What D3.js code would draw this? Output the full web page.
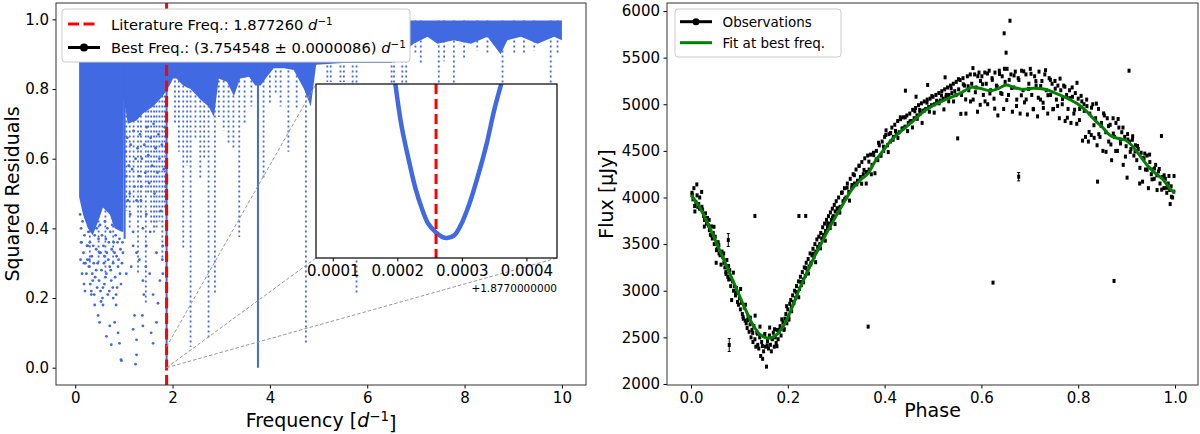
<!DOCTYPE html>
<html>
<head>
<meta charset="utf-8">
<script src="https://cdn.jsdelivr.net/npm/d3@7"></script>
<style>
body { margin: 0; background: #fff; }
text { font-family: "DejaVu Sans", sans-serif; fill: #000; }
</style>
</head>
<body>
<div id="chart"></div>
<script>
// ---- periodogram (left) ----
var litFreq = 1.87726;
var bestFreq = 3.754548;
var bandTop = 0.997;
// lower edge of the dense cloud of residuals
var envF  = [0.08, 0.16, 0.26, 0.36, 0.47, 0.57, 0.71, 0.81, 0.95, 0.99, 1.00, 1.08, 1.26, 1.39, 1.60, 1.80, 1.94, 2.01, 2.08, 2.22, 2.37, 2.57, 2.74, 2.85, 2.95, 3.12, 3.26, 3.39, 3.57, 3.70, 3.81, 3.94, 4.08, 4.29, 4.49, 4.70, 4.84, 4.95, 5.50, 6.00, 6.50, 6.95, 7.24, 7.44, 7.78, 8.13, 8.47, 8.74, 8.88, 9.16, 9.50, 9.84, 10.0];
var envLo = [0.49, 0.44, 0.40, 0.38, 0.42, 0.46, 0.44, 0.40, 0.39, 0.39, 0.77, 0.70, 0.71, 0.73, 0.75, 0.78, 0.81, 0.83, 0.83, 0.81, 0.80, 0.77, 0.75, 0.72, 0.83, 0.82, 0.78, 0.83, 0.835, 0.81, 0.81, 0.835, 0.86, 0.86, 0.855, 0.80, 0.75, 0.87, 0.875, 0.875, 0.875, 0.93, 0.95, 0.93, 0.94, 0.93, 0.95, 0.90, 0.94, 0.95, 0.93, 0.95, 0.94];
// columns of points hanging below the cloud: frequency, lowest value
var spikeF   = [0.30, 0.48, 0.62, 0.78, 1.05, 1.12, 1.20, 1.29, 1.35, 1.45, 1.50, 1.56, 1.62, 1.67, 1.73, 1.79, 1.84, 2.05, 2.13, 2.22, 2.30, 2.37, 2.47, 2.57, 2.65, 2.74, 2.87, 2.95, 3.05, 3.15, 3.25, 3.37, 3.48, 3.62, 3.87, 4.00, 4.12, 4.22, 4.38, 4.55, 4.74, 5.18, 5.25, 5.45, 5.52, 5.70, 5.78, 6.50, 6.55, 6.72, 6.80, 6.99, 7.10, 7.47, 7.58, 7.78, 7.99, 8.26, 8.47, 8.78, 9.02, 9.22, 9.43, 9.77, 9.91];
var spikeMin = [0.28, 0.30, 0.27, 0.30, 0.45, 0.40, 0.47, 0.27, 0.43, 0.18, 0.50, 0.41, 0.38, 0.40, 0.42, 0.31, 0.46, 0.70, 0.62, 0.34, 0.58, 0.06, 0.66, 0.54, 0.60, 0.085, 0.21, 0.72, 0.68, 0.64, 0.625, 0.375, 0.70, 0.75, 0.54, 0.76, 0.79, 0.75, 0.62, 0.74, 0.065, 0.82, 0.82, 0.82, 0.82, 0.815, 0.21, 0.815, 0.815, 0.815, 0.815, 0.90, 0.87, 0.80, 0.88, 0.80, 0.89, 0.91, 0.90, 0.80, 0.90, 0.90, 0.91, 0.80, 0.90];
// dense, unbroken columns
var solidF   = [1.015, litFreq + 0.000013, bestFreq];
var solidMin = [0.37, 0.003, 0.0];
// isolated points below the cloud
var scatterF = [0.26, 0.29, 0.23, 0.36, 0.33, 0.40, 0.47, 0.50, 0.53, 0.57, 0.64, 0.71, 0.74, 0.67, 0.78, 0.84, 0.81, 0.88, 0.91, 0.95, 0.71, 0.64, 0.74, 0.57, 0.43, 0.50, 0.60, 0.81, 0.88, 0.91, 0.98, 1.05, 1.15, 1.19, 1.26, 1.22, 1.19, 1.26, 1.26, 1.24, 1.39, 1.38, 1.41, 1.39, 1.45, 1.32, 1.53, 1.60, 1.56, 1.60, 1.67, 1.70, 1.74, 1.67, 1.80, 1.79, 1.80, 1.54, 1.46, 1.19, 1.39, 1.13, 1.08, 1.26, 1.36, 1.46, 0.94, 0.12, 0.18, 0.31, 0.52,
    0.10, 0.12, 0.13, 0.15, 0.17, 0.19, 0.21, 0.22, 0.24, 0.27, 0.28, 0.30, 0.32, 0.34, 0.35, 0.37, 0.38, 0.40, 0.41, 0.43, 0.44, 0.46, 0.48, 0.49, 0.51, 0.52, 0.54, 0.55, 0.58, 0.59, 0.61, 0.62, 0.63, 0.65, 0.66, 0.68, 0.69, 0.72, 0.73, 0.75, 0.76, 0.78, 0.79, 0.82, 0.83, 0.85, 0.86, 0.87, 0.89, 0.90, 0.92, 0.93, 0.96, 0.97, 0.11, 0.14, 0.18, 0.20, 0.25, 0.33, 0.39, 0.45, 0.56, 0.60, 0.70, 0.77, 0.84, 0.94,
    1.03, 1.05, 1.07, 1.10, 1.12, 1.14, 1.17, 1.20, 1.22, 1.24, 1.28, 1.31, 1.33, 1.35, 1.37, 1.42, 1.44, 1.47, 1.50, 1.52, 1.55, 1.58, 1.61, 1.63, 1.65, 1.69, 1.71, 1.73, 1.76, 1.78, 1.82, 1.84, 1.86];
var scatterR = [0.35, 0.31, 0.27, 0.25, 0.21, 0.18, 0.15, 0.13, 0.19, 0.23, 0.27, 0.29, 0.25, 0.21, 0.20, 0.18, 0.13, 0.10, 0.07, 0.02, 0.12, 0.09, 0.066, 0.18, 0.28, 0.33, 0.32, 0.33, 0.29, 0.37, 0.33, 0.27, 0.29, 0.35, 0.33, 0.15, 0.11, 0.08, 0.037, 0.01, 0.12, 0.15, 0.21, 0.25, 0.29, 0.31, 0.27, 0.21, 0.10, 0.07, 0.13, 0.185, 0.25, 0.33, 0.35, 0.31, 0.27, 0.39, 0.35, 0.39, 0.40, 0.44, 0.48, 0.48, 0.52, 0.44, 0.023, 0.36, 0.30, 0.24, 0.22,
    0.44, 0.40, 0.36, 0.42, 0.33, 0.38, 0.30, 0.43, 0.35, 0.39, 0.29, 0.36, 0.41, 0.32, 0.27, 0.35, 0.30, 0.38, 0.26, 0.34, 0.40, 0.30, 0.37, 0.25, 0.41, 0.33, 0.28, 0.38, 0.35, 0.30, 0.42, 0.26, 0.37, 0.33, 0.40, 0.31, 0.36, 0.39, 0.28, 0.34, 0.41, 0.30, 0.36, 0.26, 0.38, 0.32, 0.23, 0.36, 0.31, 0.40, 0.27, 0.34, 0.30, 0.36, 0.31, 0.27, 0.24, 0.22, 0.31, 0.22, 0.21, 0.23, 0.20, 0.24, 0.22, 0.23, 0.21, 0.24,
    0.62, 0.55, 0.66, 0.58, 0.50, 0.64, 0.57, 0.68, 0.52, 0.60, 0.63, 0.55, 0.67, 0.48, 0.60, 0.64, 0.56, 0.69, 0.61, 0.53, 0.66, 0.58, 0.70, 0.50, 0.63, 0.56, 0.67, 0.60, 0.45, 0.64, 0.57, 0.69, 0.52];
// zoomed curve around the literature frequency
var insetF = [1.877197, 1.877206, 1.877217, 1.877228, 1.877238, 1.877248, 1.877259, 1.877270, 1.877277, 1.877288, 1.877298, 1.877311, 1.877324, 1.877338, 1.877350, 1.877361];
var insetR = [0.060, 0.0462, 0.0345, 0.0241, 0.0171, 0.0118, 0.0090, 0.0072, 0.0069, 0.0078, 0.0112, 0.0183, 0.0276, 0.0390, 0.0509, 0.060];
var insetXDomain = [1.877074, 1.8774474];
var insetYDomain = [0.0, 0.06];
var insetTicks = [1.8771, 1.8772, 1.8773, 1.8774];

// ---- phase folded light curve (right) ----
var fitPhase = [0, .017, .041, .065, .089, .113, .128, .144, .160, .176, .192, .208, .223, .239, .255, .271, .287, .303, .319, .334, .350, .366, .382, .398, .414, .437, .461, .485, .509, .532, .556, .580, .596, .620, .636, .651, .667, .683, .707, .731, .754, .778, .802, .818, .834, .849, .865, .881, .897, .913, .929, .945, .960, .976, .992, 1.0];
var fitFlux  = [4027, 3902, 3651, 3365, 3080, 2794, 2633, 2525, 2490, 2525, 2633, 2811, 3008, 3187, 3365, 3526, 3687, 3830, 3973, 4098, 4188, 4259, 4402, 4509, 4617, 4724, 4831, 4938, 5010, 5063, 5117, 5181, 5171, 5146, 5171, 5207, 5181, 5160, 5171, 5160, 5117, 5063, 4992, 4920, 4831, 4760, 4670, 4635, 4617, 4545, 4438, 4331, 4259, 4188, 4080, 4055];
var obs = [
 [0.002,4050],[0.004,3980],[0.006,4100],[0.008,3850],[0.010,3950],[0.012,4140],[0.014,3900],[0.016,3930],[0.018,4000],[0.020,3880],[0.022,4060],[0.024,3870],[0.026,3800],[0.028,3760],[0.030,3830],[0.032,3720],[0.034,3780],[0.036,3700],[0.038,3650],[0.040,3600],[0.042,3690],[0.044,3560],[0.046,3620],[0.048,3500],[0.050,3580],[0.052,3300],[0.054,3450],[0.056,3520],[0.058,3400],[0.060,3380],[0.062,3280],[0.064,3420],[0.066,3360],[0.068,3300],[0.070,3250],[0.072,3200],[0.074,3330],[0.076,3150],[0.078,3120],[0.080,3220],[0.082,3050],[0.084,2900],[0.086,3100],[0.088,3000],[0.090,3050],[0.092,2950],[0.094,3030],[0.096,2880],[0.098,2850],[0.100,2920],
 [0.102,2800],[0.104,2870],[0.106,2750],[0.108,2700],[0.110,2820],[0.112,2680],[0.114,2650],[0.116,2600],[0.118,2720],[0.120,2560],[0.122,2640],[0.124,2500],[0.126,2580],[0.128,2450],[0.130,2620],[0.132,2480],[0.134,2400],[0.136,2550],[0.138,2420],[0.140,2380],[0.142,2500],[0.144,2300],[0.146,2450],[0.148,2270],[0.150,2350],[0.152,2520],[0.154,2400],[0.156,2186],[0.158,2460],[0.160,2380],[0.162,2520],[0.164,2420],[0.166,2350],[0.168,2480],[0.170,2550],[0.172,2400],[0.174,2500],[0.176,2440],[0.178,2580],[0.180,2480],[0.182,2560],[0.184,2620],[0.186,2520],[0.188,2600],[0.190,2660],[0.192,2580],[0.194,2700],[0.196,2750],[0.198,2650],[0.200,2800],
 [0.202,2720],[0.204,2860],[0.206,2900],[0.208,2780],[0.210,2950],[0.212,2880],[0.214,3000],[0.216,2920],[0.218,3050],[0.220,2980],[0.222,3100],[0.224,3020],[0.226,3150],[0.228,3060],[0.230,3200],[0.232,3120],[0.234,3250],[0.236,3160],[0.238,3300],[0.240,3200],[0.242,3340],[0.244,3260],[0.246,3400],[0.248,3300],[0.250,3380],[0.252,3450],[0.254,3360],[0.256,3500],[0.258,3420],[0.260,3550],[0.262,3470],[0.264,3580],[0.266,3500],[0.268,3620],[0.270,3560],[0.272,3680],[0.274,3600],[0.276,3720],[0.278,3640],[0.280,3760],[0.282,3680],[0.284,3800],[0.286,3720],[0.288,3840],[0.290,3760],[0.292,3880],[0.294,3800],[0.296,3920],[0.298,3850],[0.300,3960],
 [0.302,3880],[0.305,4000],[0.308,3900],[0.311,4050],[0.314,3960],[0.317,4100],[0.320,4000],[0.323,4150],[0.326,4060],[0.329,4200],[0.332,4100],[0.335,4250],[0.338,4150],[0.341,4300],[0.344,4180],[0.347,4340],[0.350,4220],[0.353,4380],[0.356,4250],[0.359,4420],[0.362,4150],[0.365,4450],[0.368,4300],[0.371,4460],[0.374,4350],[0.377,4480],[0.380,4260],[0.383,4500],[0.386,4400],[0.389,4560],[0.392,4450],[0.395,4600],[0.398,4500],[0.400,4650],
 [0.403,4720],[0.406,4560],[0.409,4680],[0.412,4600],[0.415,4750],[0.418,4650],[0.421,4780],[0.424,4680],[0.427,4820],[0.430,4700],[0.433,4840],[0.436,4740],[0.439,4860],[0.442,4760],[0.443,5146],[0.446,4880],[0.449,4800],[0.452,4900],[0.455,4820],[0.458,4940],[0.461,4850],[0.464,4960],[0.465,5081],[0.467,4880],[0.470,4990],[0.473,4900],[0.476,5010],[0.479,4930],[0.482,5030],[0.485,4950],[0.488,5050],[0.489,5207],[0.491,4970],[0.494,5060],[0.497,4990],[0.500,5080],
 [0.503,5000],[0.506,5100],[0.509,5020],[0.512,5120],[0.515,5040],[0.518,5140],[0.521,5060],[0.524,5160],[0.525,5289],[0.527,5080],[0.530,5180],[0.533,5100],[0.536,5200],[0.539,5120],[0.542,5220],[0.545,5140],[0.548,5240],[0.551,4634],[0.553,5160],[0.556,5260],[0.559,5100],[0.562,5280],[0.565,5200],[0.568,4900],[0.571,5300],[0.574,5150],[0.577,5320],[0.580,5220],[0.583,5050],[0.586,5320],[0.589,5180],[0.592,4920],[0.595,5340],[0.598,5250],
 [0.601,5300],[0.604,5100],[0.607,5340],[0.610,5220],[0.613,5000],[0.616,5360],[0.619,5150],[0.622,5280],[0.624,3087],[0.626,5060],[0.628,5340],[0.631,5200],[0.634,4880],[0.637,5360],[0.640,5120],[0.643,5300],[0.646,4950],[0.647,5761],[0.649,5240],[0.651,5553],[0.653,5380],[0.656,5100],[0.659,5896],[0.661,5320],[0.664,4920],[0.667,5180],[0.670,5350],[0.673,5050],[0.676,5280],[0.680,4900],[0.683,5360],[0.686,5150],[0.689,5020],[0.692,5320],[0.695,4890],[0.698,5220],[0.701,5380],[0.704,5100],[0.707,4950],[0.710,5300],[0.713,5200],[0.716,4870],[0.719,5350],[0.722,5050],[0.725,5250],[0.728,4960],[0.731,5320],[0.734,5150],[0.737,4900],[0.740,5280],[0.743,5100],[0.746,5220],[0.749,4950],
 [0.752,5250],[0.755,5050],[0.758,5200],[0.761,4850],[0.764,5150],[0.767,5000],[0.770,5200],[0.773,4820],[0.776,5100],[0.779,4950],[0.782,5150],[0.785,4800],[0.788,5080],[0.791,4900],[0.794,5120],[0.797,4790],[0.800,5060],[0.803,4950],[0.806,5090],[0.809,4610],[0.812,5000],[0.815,4650],[0.818,4980],[0.821,4600],[0.824,4900],[0.827,4670],[0.830,5000],[0.833,4640],[0.836,4850],[0.839,4560],[0.840,4170],[0.842,4950],[0.845,4650],[0.848,4800],[0.851,4500],[0.854,4880],[0.857,4700],[0.860,4850],[0.863,4600],[0.866,4780],[0.869,4400],[0.872,4850],[0.874,3105],[0.875,4650],[0.878,4800],[0.881,4500],[0.884,4750],[0.887,4620],[0.890,4700],[0.893,4350],[0.896,4650],[0.899,4550],
 [0.901,4213],[0.902,4680],[0.905,5360],[0.906,4600],[0.909,4520],[0.912,4620],[0.915,4450],[0.918,4560],[0.921,4400],[0.924,4520],[0.927,4150],[0.930,4480],[0.933,4170],[0.936,4420],[0.939,4300],[0.942,4450],[0.945,4100],[0.948,4380],[0.951,4250],[0.954,4300],[0.957,4200],[0.960,4350],[0.963,4080],[0.966,4280],[0.969,4150],[0.972,4660],[0.974,4220],[0.977,4100],[0.980,4200],[0.983,4050],[0.986,4150],[0.989,4080],[0.990,3930],[0.992,4120],[0.995,4000],[0.998,4230],
 [0.132,3802],[0.223,3802],[0.237,3802],[0.366,2615]
];
var obs2 = [
 [.0025,4033],[.0075,3908],[.0125,4023],[.0175,3881],[.0225,3900],[.0275,3688],[.0325,3748],[.0375,3760],[.0425,3594],[.0475,3686],[.0525,3435],[.0575,3487],[.0625,3387],[.0675,3400],[.0725,3180],[.0775,3265],[.0825,3125],[.0875,3194],[.0925,2983],[.0975,2979],
 [.1025,3019],[.1075,2720],[.1125,2850],[.1175,2686],[.1225,2712],[.1275,2548],[.1325,2733],[.1375,2539],[.1425,2615],[.1475,2407],[.1525,2536],[.1575,2415],[.1625,2605],[.1675,2486],[.1725,2587],[.1775,2405],[.1825,2579],[.1875,2693],[.1925,2588],[.1975,2834],
 [.2025,2690],[.2075,2829],[.2125,2865],[.2175,2984],[.2225,2930],[.2275,3094],[.2325,3090],[.2375,3242],[.2425,3184],[.2475,3282],[.2525,3397],[.2575,3306],[.2625,3471],[.2675,3455],[.2725,3552],[.2775,3537],[.2825,3719],[.2875,3673],[.2925,3784],[.2975,3715],
 [.3025,3884],[.3075,3838],[.3125,4054],[.3175,3982],[.3225,4105],[.3275,3967],[.3325,4134],[.3375,4239],[.3425,4141],[.3475,4340],[.3525,4148],[.3575,4296],[.3625,4274],[.3675,4384],[.3725,4249],[.3775,4455],[.3825,4409],[.3875,4587],[.3925,4449],[.3975,4545],
 [.4025,4670],[.4075,4487],[.4125,4692],[.4175,4619],[.4225,4714],[.4275,4639],[.4325,4860],[.4375,4739],[.4425,4860],[.4475,4712],[.4525,4817],[.4575,4751],[.4625,4925],[.4675,4844],[.4725,4938],[.4775,4800],[.4825,4934],[.4875,5017],[.4925,4920],[.4975,5087],
 [.5025,4910],[.5075,5037],[.5125,5010],[.5175,5094],[.5225,4945],[.5275,5101],[.5325,5032],[.5375,5171],[.5425,5030],[.5475,5098],[.5525,5269],[.5575,4897],[.5625,5214],[.5675,5052],[.5725,5193],[.5775,5030],[.5825,5388],[.5875,5129],[.5925,5301],[.5975,4994],
 [.6025,5215],[.6075,5031],[.6125,5330],[.6175,5116],[.6225,5262],[.6275,4953],[.6325,5187],[.6375,5325],[.6425,5111],[.6475,5380],[.6525,5045],[.6575,5262],[.6625,5174],[.6675,5309],[.6725,4981],[.6775,5260],[.6825,5096],[.6875,5353],[.6925,5051],[.6975,5165],
 [.7025,5327],[.7075,4946],[.7125,5248],[.7175,5070],[.7225,5195],[.7275,5017],[.7325,5365],[.7375,5097],[.7425,5262],[.7475,4946],[.7525,5167],[.7575,4982],[.7625,5275],[.7675,5055],[.7725,5188],[.7775,4856],[.7825,5066],[.7875,5180],[.7925,4941],[.7975,5230],
 [.8025,4830],[.8075,5031],[.8125,4929],[.8175,5050],[.8225,4703],[.8275,4963],[.8325,4775],[.8375,5007],[.8425,4679],[.8475,4768],[.8525,4902],[.8575,4490],[.8625,4766],[.8675,4569],[.8725,4686],[.8775,4499],[.8825,4842],[.8875,4579],[.8925,4750],[.8975,4439],
 [.9025,4622],[.9075,4489],[.9125,4657],[.9175,4495],[.9225,4553],[.9275,4318],[.9325,4424],[.9375,4471],[.9425,4298],[.9475,4460],[.9525,4194],[.9575,4311],[.9625,4238],[.9675,4306],[.9725,4084],[.9775,4238],[.9825,4104],[.9875,4231],[.9925,4008],[.9975,4063]
];
// points drawn with a visible error bar
var errPhase = [0.077, 0.079, 0.677];
var errFlux  = [3544, 2418, 4223];
var errSize  = [70, 70, 45];

var W = 1200, H = 434;
var blue = "#4169e1";

var svg = d3.select("#chart")
    .append("svg")
        .attr("width", W)
        .attr("height", H);

function mathD(sel) {
    sel.append("tspan").style("font-style", "italic").text("d");
    sel.append("tspan").attr("dy", "-0.45em").style("font-size", "0.7em").text("\u22121");
}

// ================= left panel =================
var L = {left: 56, right: 586, top: 3, bottom: 385};
var xF = d3.scaleLinear().domain([-0.395, 10.495]).range([L.left, L.right]);
var yR = d3.scaleLinear().domain([-0.0497, 1.047]).range([L.bottom, L.top]);

svg.append("clipPath").attr("id", "clipL")
    .append("rect").attr("x", L.left).attr("y", L.top)
    .attr("width", L.right - L.left).attr("height", L.bottom - L.top);

var gL = svg.append("g").attr("clip-path", "url(#clipL)");

// sparse columns
gL.selectAll(".spike")
    .data(spikeF.map(function(f, i) { return [f, spikeMin[i]]; }))
    .enter().append("line")
        .attr("x1", function(d) { return xF(d[0]); })
        .attr("x2", function(d) { return xF(d[0]); })
        .attr("y1", yR(bandTop))
        .attr("y2", function(d) { return yR(d[1]); })
        .attr("stroke", blue)
        .attr("stroke-width", 1.8)
        .attr("stroke-dasharray", "2,3");

// dense cloud
var band = envF.map(function(f, i) { return [f, envLo[i]]; });
gL.append("path")
    .datum(band)
    .attr("fill", blue)
    .attr("d", d3.area()
        .x(function(d) { return xF(d[0]); })
        .y0(function(d) { return yR(d[1]); })
        .y1(yR(bandTop)));

gL.selectAll(".solid")
    .data(solidF.map(function(f, i) { return [f, solidMin[i]]; }))
    .enter().append("line")
        .attr("x1", function(d) { return xF(d[0]); })
        .attr("x2", function(d) { return xF(d[0]); })
        .attr("y1", yR(bandTop))
        .attr("y2", function(d) { return yR(d[1]); })
        .attr("stroke", blue)
        .attr("stroke-width", 2);

gL.selectAll(".dot")
    .data(scatterF.map(function(f, i) { return [f, scatterR[i]]; }))
    .enter().append("circle")
        .attr("cx", function(d) { return xF(d[0]); })
        .attr("cy", function(d) { return yR(d[1]); })
        .attr("r", 1.4)
        .attr("fill", blue);

// literature frequency
gL.append("line")
    .attr("x1", xF(litFreq)).attr("x2", xF(litFreq))
    .attr("y1", L.top).attr("y2", L.bottom)
    .attr("stroke", "#f00")
    .attr("stroke-width", 3)
    .attr("stroke-dasharray", "11,4.5");

// inset box
var I = {left: 316, right: 557, top: 84, bottom: 258};
var xI = d3.scaleLinear().domain(insetXDomain).range([I.left, I.right]);
var yI = d3.scaleLinear().domain(insetYDomain).range([I.bottom, I.top]);

// connector lines
var conn = [
    [[xF(insetXDomain[0]), yR(insetYDomain[1])], [I.left, I.top]],
    [[xF(insetXDomain[0]), yR(insetYDomain[0])], [I.left, I.bottom]],
    [[xF(insetXDomain[1]), yR(insetYDomain[0])], [I.right, I.bottom]]
];
gL.selectAll(".conn")
    .data(conn)
    .enter().append("line")
        .attr("x1", function(d) { return d[0][0]; })
        .attr("y1", function(d) { return d[0][1]; })
        .attr("x2", function(d) { return d[1][0]; })
        .attr("y2", function(d) { return d[1][1]; })
        .attr("stroke", "#999")
        .attr("stroke-width", 1)
        .attr("stroke-dasharray", "3.5,2");

svg.append("rect")
    .attr("x", I.left).attr("y", I.top)
    .attr("width", I.right - I.left).attr("height", I.bottom - I.top)
    .attr("fill", "#fff");

svg.append("clipPath").attr("id", "clipI")
    .append("rect").attr("x", I.left).attr("y", I.top)
    .attr("width", I.right - I.left).attr("height", I.bottom - I.top);
var gI = svg.append("g").attr("clip-path", "url(#clipI)");

gI.append("path")
    .datum(insetF.map(function(f, i) { return [f, insetR[i]]; }))
    .attr("fill", "none")
    .attr("stroke", blue)
    .attr("stroke-width", 4.5)
    .attr("d", d3.line()
        .x(function(d) { return xI(d[0]); })
        .y(function(d) { return yI(d[1]); })
        .curve(d3.curveCatmullRom));

gI.append("line")
    .attr("x1", xI(litFreq)).attr("x2", xI(litFreq))
    .attr("y1", I.top).attr("y2", I.bottom)
    .attr("stroke", "#f00")
    .attr("stroke-width", 3)
    .attr("stroke-dasharray", "10,5");

svg.append("rect")
    .attr("x", I.left).attr("y", I.top)
    .attr("width", I.right - I.left).attr("height", I.bottom - I.top)
    .attr("fill", "none").attr("stroke", "#000").attr("stroke-width", 1.2);

var axI = svg.append("g")
    .attr("transform", "translate(0," + I.bottom + ")")
    .call(d3.axisBottom(xI).tickValues(insetTicks)
        .tickFormat(function(d) { return (d - 1.877).toFixed(4); })
        .tickSize(3.5).tickPadding(3.5));
axI.select(".domain").remove();
axI.selectAll("text").style("font-size", "15px").style("font-family", "DejaVu Sans");

svg.append("text")
    .attr("x", I.right).attr("y", 292)
    .attr("text-anchor", "end")
    .style("font-size", "10.5px")
    .text("+1.8770000000");

// axes of left panel
var axLx = svg.append("g")
    .attr("transform", "translate(0," + L.bottom + ")")
    .call(d3.axisBottom(xF).tickValues([0, 2, 4, 6, 8, 10]).tickSize(3.5).tickPadding(3.5));
var axLy = svg.append("g")
    .attr("transform", "translate(" + L.left + ",0)")
    .call(d3.axisLeft(yR).tickValues([0, 0.2, 0.4, 0.6, 0.8, 1.0])
        .tickFormat(d3.format(".1f")).tickSize(3.5).tickPadding(3.5));
[axLx, axLy].forEach(function(a) {
    a.select(".domain").remove();
    a.selectAll("text").style("font-size", "15px").style("font-family", "DejaVu Sans");
});

svg.append("rect")
    .attr("x", L.left).attr("y", L.top)
    .attr("width", L.right - L.left).attr("height", L.bottom - L.top)
    .attr("fill", "none").attr("stroke", "#333").attr("stroke-width", 1);

var xl = svg.append("text")
    .attr("x", (L.left + L.right) / 2).attr("y", 427)
    .attr("text-anchor", "middle")
    .style("font-size", "19px");
xl.append("tspan").text("Frequency [");
mathD(xl);
xl.append("tspan").attr("dy", "0.45em").text("]");

svg.append("text")
    .attr("transform", "translate(19," + ((L.top + L.bottom) / 2) + ") rotate(-90)")
    .attr("text-anchor", "middle")
    .style("font-size", "19px")
    .text("Squared Residuals");

// legend left
var lg = svg.append("g");
lg.append("rect")
    .attr("x", 62).attr("y", 9).attr("width", 348).attr("height", 53).attr("rx", 3)
    .attr("fill", "#fff").attr("stroke", "#ccc");
lg.append("line").attr("x1", 68).attr("x2", 98).attr("y1", 24).attr("y2", 24)
    .attr("stroke", "#f00").attr("stroke-width", 3).attr("stroke-dasharray", "11,4.5");
lg.append("line").attr("x1", 68).attr("x2", 100).attr("y1", 47.5).attr("y2", 47.5)
    .attr("stroke", "#000").attr("stroke-width", 3);
lg.append("circle").attr("cx", 84).attr("cy", 47.5).attr("r", 4).attr("fill", "#000");
var t1 = lg.append("text").attr("x", 111).attr("y", 29.5).style("font-size", "14.7px");
t1.append("tspan").text("Literature Freq.: " + litFreq.toFixed(6) + " ");
mathD(t1);
var t2 = lg.append("text").attr("x", 111).attr("y", 53).style("font-size", "14.7px");
t2.append("tspan").text("Best Freq.: (" + bestFreq.toFixed(6) + " \u00b1 0.0000086) ");
mathD(t2);

// ================= right panel =================
var R = {left: 667, right: 1198, top: 3, bottom: 385};
var xP = d3.scaleLinear().domain([-0.0496, 1.0475]).range([R.left, R.right]);
var yFl = d3.scaleLinear().domain([1989, 6086]).range([R.bottom, R.top]);

var gR = svg.append("g");

gR.selectAll(".err")
    .data(errPhase.map(function(p, i) { return [p, errFlux[i], errSize[i]]; }))
    .enter().append("path")
        .attr("d", function(d) {
            var x = xP(d[0]), y0 = yFl(d[1] - d[2]), y1 = yFl(d[1] + d[2]);
            return "M" + x + "," + y0 + "V" + y1 +
                "M" + (x - 1.5) + "," + y0 + "H" + (x + 1.5) +
                "M" + (x - 1.5) + "," + y1 + "H" + (x + 1.5);
        })
        .attr("stroke", "#000").attr("stroke-width", 1).attr("fill", "none");

gR.selectAll(".obs")
    .data(obs.concat(obs2).concat(errPhase.map(function(p, i) { return [p, errFlux[i]]; })))
    .enter().append("rect")
        .attr("x", function(d) { return xP(d[0]) - 1.5; })
        .attr("y", function(d) { return yFl(d[1]) - 2; })
        .attr("width", 3)
        .attr("height", 4)
        .attr("fill", "#000");

gR.append("path")
    .datum(fitPhase.map(function(p, i) { return [p, fitFlux[i]]; }))
    .attr("fill", "none")
    .attr("stroke", "#008000")
    .attr("stroke-width", 3)
    .attr("d", d3.line()
        .x(function(d) { return xP(d[0]); })
        .y(function(d) { return yFl(d[1]); })
        .curve(d3.curveCatmullRom));

var axRx = svg.append("g")
    .attr("transform", "translate(0," + R.bottom + ")")
    .call(d3.axisBottom(xP).tickValues([0, 0.2, 0.4, 0.6, 0.8, 1.0])
        .tickFormat(d3.format(".1f")).tickSize(3.5).tickPadding(3.5));
var axRy = svg.append("g")
    .attr("transform", "translate(" + R.left + ",0)")
    .call(d3.axisLeft(yFl).tickValues(d3.range(2000, 6001, 500))
        .tickFormat(d3.format("d")).tickSize(3.5).tickPadding(3.5));
[axRx, axRy].forEach(function(a) {
    a.select(".domain").remove();
    a.selectAll("text").style("font-size", "15px").style("font-family", "DejaVu Sans");
});

svg.append("rect")
    .attr("x", R.left).attr("y", R.top)
    .attr("width", R.right - R.left).attr("height", R.bottom - R.top)
    .attr("fill", "none").attr("stroke", "#333").attr("stroke-width", 1);

svg.append("text")
    .attr("x", (R.left + R.right) / 2).attr("y", 417)
    .attr("text-anchor", "middle")
    .style("font-size", "19px")
    .text("Phase");

svg.append("text")
    .attr("transform", "translate(613," + ((R.top + R.bottom) / 2) + ") rotate(-90)")
    .attr("text-anchor", "middle")
    .style("font-size", "19px")
    .text("Flux [\u03bcJy]");

// legend right
var lg2 = svg.append("g");
lg2.append("rect")
    .attr("x", 675).attr("y", 9).attr("width", 166).attr("height", 48).attr("rx", 3)
    .attr("fill", "#fff").attr("stroke", "#ccc");
lg2.append("line").attr("x1", 680).attr("x2", 712).attr("y1", 21.7).attr("y2", 21.7)
    .attr("stroke", "#000").attr("stroke-width", 3);
lg2.append("circle").attr("cx", 696).attr("cy", 21.7).attr("r", 3.5).attr("fill", "#000");
lg2.append("line").attr("x1", 680).attr("x2", 712).attr("y1", 42.7).attr("y2", 42.7)
    .attr("stroke", "#008000").attr("stroke-width", 3);
lg2.append("text").attr("x", 722.5).attr("y", 26.5).style("font-size", "13.5px").text("Observations");
lg2.append("text").attr("x", 722.5).attr("y", 47.5).style("font-size", "13.5px").text("Fit at best freq.");
</script>
</body>
</html>
